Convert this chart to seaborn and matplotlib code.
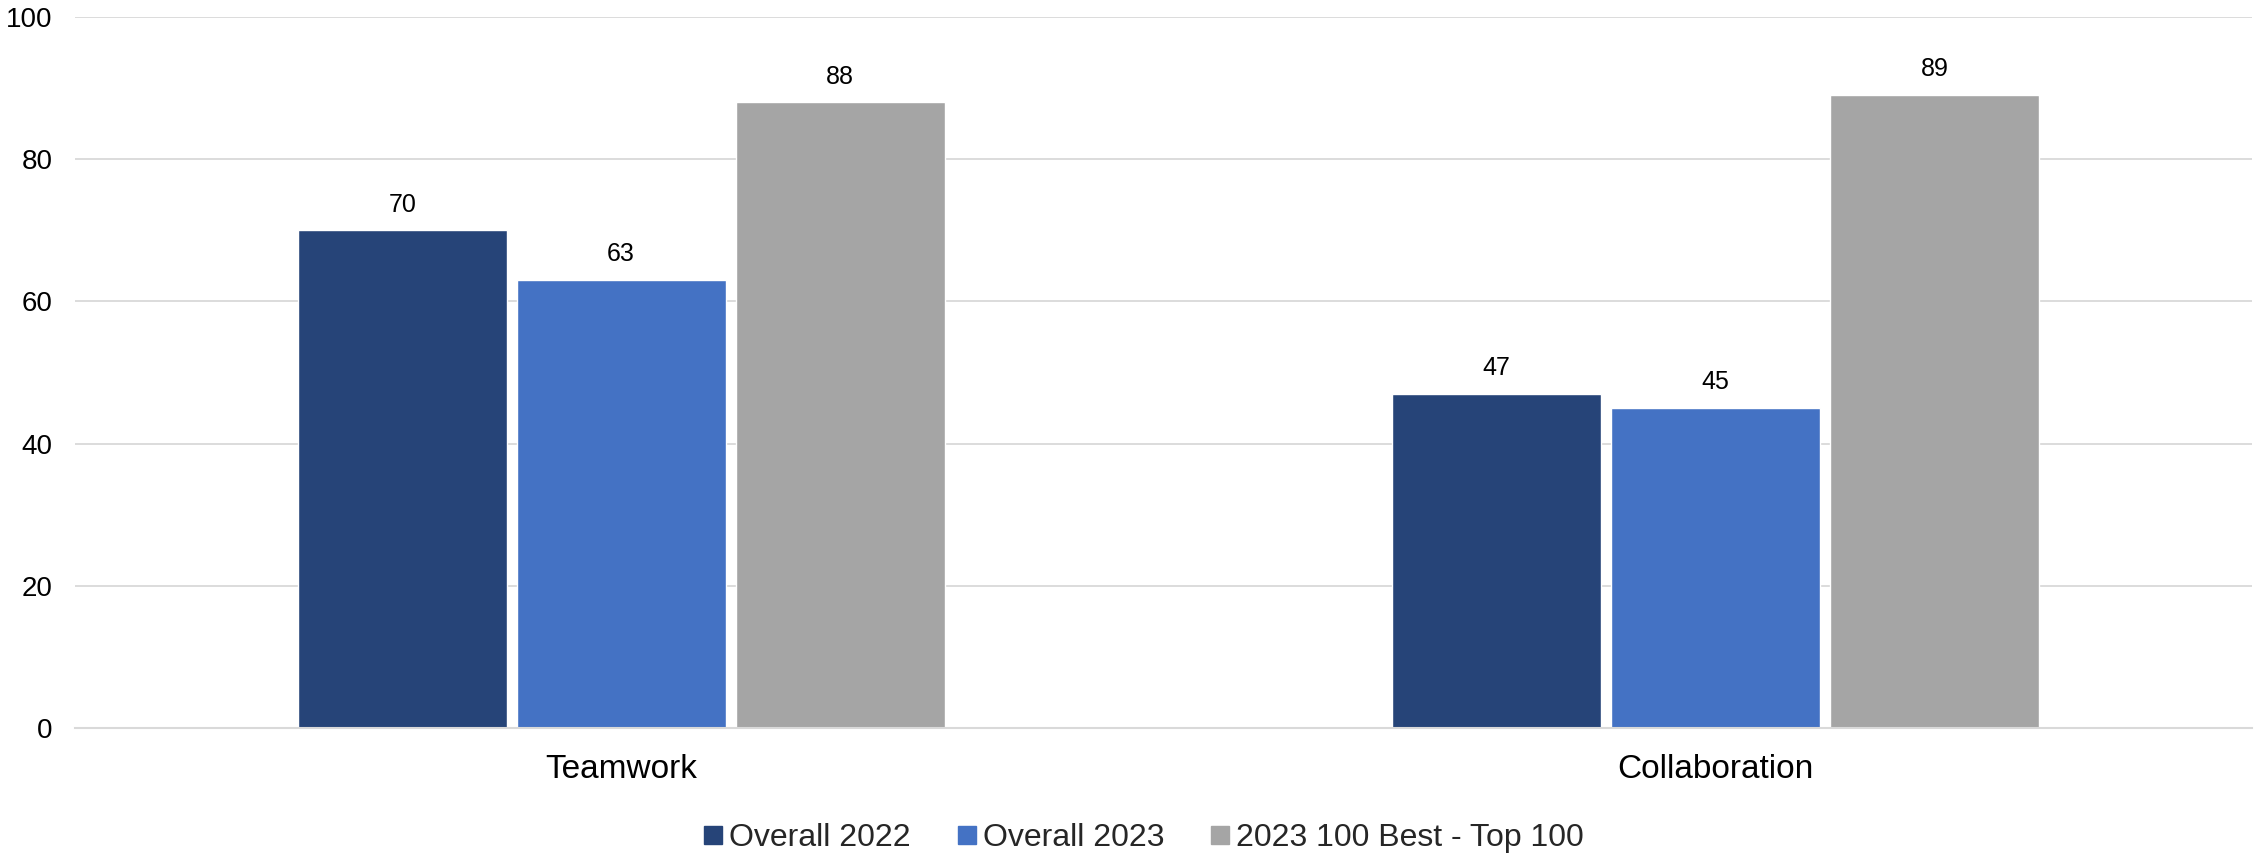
import matplotlib
matplotlib.use("Agg")
import matplotlib.pyplot as plt
import seaborn as sns
import pandas as pd
from matplotlib.lines import Line2D

categories = ["Teamwork", "Collaboration"]
series = ["Overall 2022", "Overall 2023", "2023 100 Best - Top 100"]
overall_2022 = [70, 47]
overall_2023 = [63, 45]
best_2023 = [88, 89]
colors = ["#264478", "#4472C4", "#A5A5A5"]

rows = []
for s, vals in zip(series, [overall_2022, overall_2023, best_2023]):
    for c, v in zip(categories, vals):
        rows.append({"Category": c, "Series": s, "Value": v})
df = pd.DataFrame(rows)

sns.set_theme(style="white")
plt.rcParams["font.family"] = ["Liberation Sans", "DejaVu Sans"]

fig = plt.figure(figsize=(22.59, 8.57), dpi=100)
ax = fig.add_axes([0.0332, 0.1505, 0.9637, 0.8295])

sns.barplot(data=df, x="Category", y="Value", hue="Series", order=categories,
            hue_order=series, palette=colors, width=0.6, gap=0.045,
            saturation=1, ax=ax, legend=False, zorder=3)

ax.set_xlim(-0.499, 1.49)
ax.set_ylim(0, 100)
ax.set_yticks([0, 20, 40, 60, 80, 100])
ax.yaxis.grid(True, color="#D9D9D9", linewidth=1.3, zorder=0)
ax.set_axisbelow(True)
for sp in ["top", "right", "left"]:
    ax.spines[sp].set_visible(False)
ax.spines["bottom"].set_color("#D9D9D9")
ax.spines["bottom"].set_linewidth(1.5)
ax.spines["bottom"].set_zorder(4)
ax.tick_params(axis="y", length=0, pad=16, labelsize=20, labelcolor="black")
ax.tick_params(axis="x", length=0, pad=19, labelsize=24, labelcolor="black")
ax.set_xlabel("")
ax.set_ylabel("")

for cont in ax.containers:
    ax.bar_label(cont, fmt="%d", padding=10, fontsize=18, color="black")

handles = [Line2D([0], [0], marker="s", linestyle="none", markersize=13,
                  markerfacecolor=c, markeredgecolor=c) for c in colors]
fig.legend(handles, series, loc="center", bbox_to_anchor=(0.506, 0.022),
           ncol=3, frameon=False, fontsize=23, handletextpad=0.15,
           columnspacing=1.4, handlelength=0.7)

fig.savefig("out.png", dpi=100, facecolor="white")
